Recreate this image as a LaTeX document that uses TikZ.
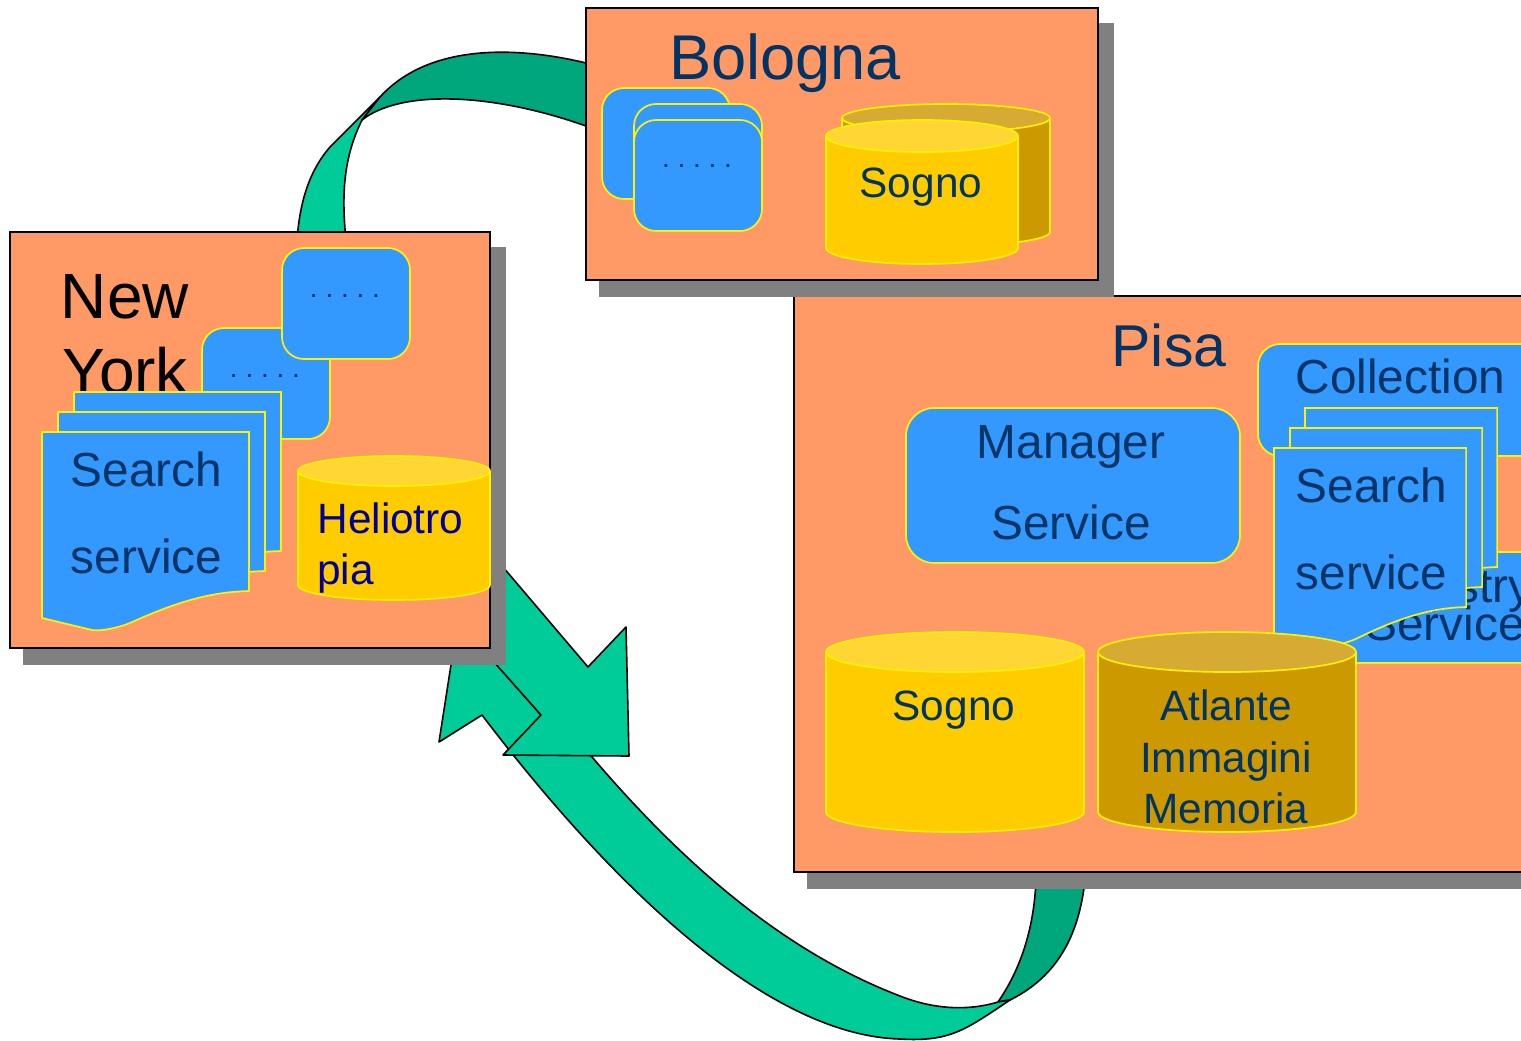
\documentclass[tikz,border=0pt]{standalone}
\usepackage{fontspec}
\setmainfont{Liberation Sans}
\definecolor{siteorange}{HTML}{FF9966}
\definecolor{svcblue}{HTML}{3399FF}
\definecolor{drumgold}{HTML}{FFCC00}
\definecolor{drumtop}{HTML}{FFD633}
\definecolor{drumdark}{HTML}{CC9900}
\definecolor{drumdarktop}{HTML}{D6AA33}
\definecolor{ribbon}{HTML}{00CC99}
\definecolor{ribbondark}{HTML}{00A67C}
\definecolor{shadowgrey}{HTML}{808080}
\definecolor{labelnavy}{HTML}{003366}
\definecolor{labelblue}{HTML}{000099}
\frenchspacing
\tikzset{
	site/.style={draw=black,fill=siteorange,line width=.9pt},
	svcbox/.style={draw=yellow,fill=svcblue,line width=.85pt,rounded corners=11pt},
	pagebox/.style={draw=yellow,fill=svcblue,line width=.85pt},
	band/.style={draw=black,fill=ribbon,line width=.8pt,line join=round},
	banddark/.style={band,fill=ribbondark},
	lab/.style={text=labelnavy,anchor=base,inner sep=0pt},
	dots/.style={lab,font=\fontsize{14}{14}\selectfont}
}
% a drum: centre x, y of top ellipse, y of bottom ellipse, radii in px, body and top colours
\newcommand{\drum}[7]{
	\fill[#6] (#1-#4,#2) rectangle (#1+#4,#3);
	\draw[yellow,line width=.85pt,fill=#6] (#1,#3) ellipse [x radius=#4*.5pt,y radius=#5*.5pt];
	\fill[#6] (#1-#4,#2) rectangle (#1+#4,#3);
	\draw[yellow,line width=.85pt] (#1-#4,#2) -- (#1-#4,#3) (#1+#4,#2) -- (#1+#4,#3);
	\draw[yellow,line width=.85pt,fill=#7] (#1,#2) ellipse [x radius=#4*.5pt,y radius=#5*.5pt];
}
\newcommand{\searchpage}[3]{
	\draw[pagebox,shift={(#1,#2)},xscale=#3] (0,0) -- (207,0) -- (207,159)
		.. controls (165,160) and (130,172) .. (88,191)
		.. controls (70,198) and (55,199) .. (50,198) -- (0,186) -- cycle;
}
\begin{document}
\begin{tikzpicture}[x=.5pt,y=-.5pt]
	\useasboundingbox (0,0) rectangle (1521,1040);
	\clip (0,0) rectangle (1521,1040);

	% upper ribbon
	\draw[band] (380,97) -- (330,147) .. controls (310,170) and (300,200) .. (297,240)
		-- (346,240) .. controls (342,200) and (342,160) .. (362,120) -- cycle;
	\draw[banddark] (600,66) -- (586,63) .. controls (520,47) and (430,42) .. (380,97)
		-- (362,120) .. controls (400,90) and (490,92) .. (586,126) -- (600,130) -- cycle;

	% lower ribbon
	\draw[banddark] (1036,880) .. controls (1034,930) and (1020,970) .. (998,1002)
		-- (1010,1000) .. controls (1050,980) and (1078,945) .. (1085,880) -- cycle;
	\draw[band] (458,620) -- (439,742) -- (482,715)
		.. controls (600,870) and (760,1035) .. (900,1039)
		.. controls (950,1042) and (965,1030) .. (1010,1000)
		-- (998,1002) .. controls (965,1012) and (930,1008) .. (900,996)
		.. controls (780,950) and (680,860) .. (592,757)
		-- (541,715) -- cycle;
	\draw[band] (629,756) -- (503,755) -- (541,715) -- (470,635) -- (480,540) -- (588,667) -- (626,627) -- cycle;

	% sites
	\foreach \xa/\ya/\xb/\yb in {794/296/1540/872,586/8/1098/280,10/232/490/648}{
		\fill[shadowgrey] ({\xa+13},{\ya+15}) rectangle ({\xb+16},{\yb+17});
		\draw[site] (\xa,\ya) rectangle (\xb,\yb);
	}

	% Bologna
	\node[lab,font=\fontsize{31.6}{32}\selectfont] (bolognatitle) at (785,79) {Bologna};
	\draw[svcbox] (602,88) rectangle (730,199);
	\draw[svcbox] (634,104) rectangle (762,215);
	\draw[svcbox] (634,120) rectangle (762,231);
	\node[dots] (bolognadots) at (697,167) {. . . . .};
	\drum{946}{118}{232}{104}{14}{drumdark}{drumdarktop}
	\drum{922}{136}{248}{96}{16}{drumgold}{drumtop}
	\node[lab,font=\fontsize{21.2}{21}\selectfont] (bolognasogno) at (921,197) {Sogno};

	% New York
	\node[lab,text=black,font=\fontsize{32}{32}\selectfont] (newlabel) at (125,318) {New};
	\node[lab,text=black,font=\fontsize{32}{32}\selectfont] (yorklabel) at (125,393) {York};
	\draw[svcbox] (202,328) rectangle (330,439);
	\node[dots] (nydotsa) at (265,377) {. . . . .};
	\draw[svcbox] (282,248) rectangle (410,359);
	\node[dots] (nydotsb) at (345,297) {. . . . .};
	\foreach \xa/\ya in {74/392,58/412,42/432}{
		\searchpage{\xa}{\ya}{1}
	}
	\node[lab,font=\fontsize{23.9}{24}\selectfont] (nysearch) at (146.5,486) {Search};
	\node[lab,font=\fontsize{23.9}{24}\selectfont] (nyservice) at (146.5,573) {service};
	\drum{394}{471}{585}{96}{15}{drumgold}{drumtop}
	\node[lab,text=labelblue,font=\fontsize{21.2}{21}\selectfont,anchor=base west] (heliotro) at (317,533) {Heliotro};
	\node[lab,text=labelblue,font=\fontsize{21.2}{21}\selectfont,anchor=base west] (pia) at (317,584) {pia};

	% Pisa
	\node[lab,font=\fontsize{29.5}{30}\selectfont] (pisatitle) at (1169,366) {Pisa};
	\draw[svcbox] (1258,344) rectangle (1542,456);
	\node[lab,font=\fontsize{23.9}{24}\selectfont] (collection) at (1400.5,393) {Collection};
	\draw[svcbox] (1303,552) rectangle (1587,663);
	\node[lab,font=\fontsize{23.9}{24}\selectfont] (registry) at (1445,602) {Registry};
	\node[lab,font=\fontsize{23.9}{24}\selectfont] (registryservice) at (1445,640) {Service};
	\foreach \xa/\ya in {1305/408,1290/428,1274/448}{
		\searchpage{\xa}{\ya}{.928}
	}
	\node[lab,font=\fontsize{23.9}{24}\selectfont] (pisasearch) at (1371.5,502) {Search};
	\node[lab,font=\fontsize{23.9}{24}\selectfont] (pisaservice) at (1371.5,589) {service};
	\draw[svcbox,rounded corners=14pt] (906,408) rectangle (1240,563);
	\node[lab,font=\fontsize{23.9}{24}\selectfont] (manager) at (1071,458) {Manager};
	\node[lab,font=\fontsize{23.9}{24}\selectfont] (managerservice) at (1071,539) {Service};
	\drum{955}{652}{812}{129}{20}{drumgold}{drumtop}
	\drum{1227}{652}{812}{129}{20}{drumdark}{drumdarktop}
	\node[lab,font=\fontsize{21.2}{21}\selectfont] (pisasogno) at (954,720) {Sogno};
	\node[lab,font=\fontsize{21.2}{21}\selectfont] (atlante) at (1226,720) {Atlante};
	\node[lab,font=\fontsize{21.2}{21}\selectfont] (immagini) at (1226,772) {Immagini};
	\node[lab,font=\fontsize{21.2}{21}\selectfont] (memoria) at (1226,823) {Memoria};
\end{tikzpicture}
\end{document}
